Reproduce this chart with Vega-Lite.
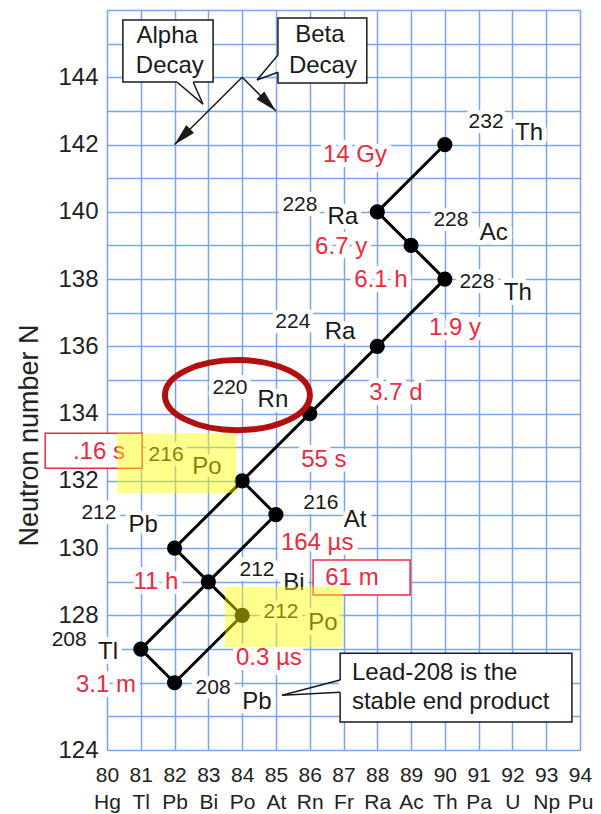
{
  "$schema": "https://vega.github.io/schema/vega-lite/v6.json",
  "width": 473,
  "height": 740,
  "autosize": "none",
  "padding": {"left": 107, "top": 10, "right": 21, "bottom": 64},
  "background": "white",
  "config": {"view": {"stroke": null}, "font": "Liberation Sans"},
  "datasets": {
    "nuclides": [
      {"name": "Th-232", "x": 90, "y": 142},
      {"name": "Ra-228", "x": 88, "y": 140},
      {"name": "Ac-228", "x": 89, "y": 139},
      {"name": "Th-228", "x": 90, "y": 138},
      {"name": "Ra-224", "x": 88, "y": 136},
      {"name": "Rn-220", "x": 86, "y": 134},
      {"name": "Po-216", "x": 84, "y": 132},
      {"name": "At-216", "x": 85, "y": 131},
      {"name": "Pb-212", "x": 82, "y": 130},
      {"name": "Bi-212", "x": 83, "y": 129},
      {"name": "Po-212", "x": 84, "y": 128},
      {"name": "Tl-208", "x": 81, "y": 127},
      {"name": "Pb-208", "x": 82, "y": 126}
    ],
    "chain": [
      {"x": 90, "y": 142, "x2": 88, "y2": 140},
      {"x": 88, "y": 140, "x2": 89, "y2": 139},
      {"x": 89, "y": 139, "x2": 90, "y2": 138},
      {"x": 90, "y": 138, "x2": 88, "y2": 136},
      {"x": 88, "y": 136, "x2": 86, "y2": 134},
      {"x": 86, "y": 134, "x2": 84, "y2": 132},
      {"x": 84, "y": 132, "x2": 85, "y2": 131},
      {"x": 84, "y": 132, "x2": 82, "y2": 130},
      {"x": 85, "y": 131, "x2": 83, "y2": 129},
      {"x": 82, "y": 130, "x2": 83, "y2": 129},
      {"x": 83, "y": 129, "x2": 81, "y2": 127},
      {"x": 83, "y": 129, "x2": 84, "y2": 128},
      {"x": 81, "y": 127, "x2": 82, "y2": 126},
      {"x": 84, "y": 128, "x2": 82, "y2": 126}
    ],
    "massLabels": [
      {"t": "232", "x": 91.22, "y": 142.67},
      {"t": "228", "x": 85.71, "y": 140.2},
      {"t": "228", "x": 90.18, "y": 139.76},
      {"t": "228", "x": 90.95, "y": 137.91},
      {"t": "224", "x": 85.5, "y": 136.72},
      {"t": "220", "x": 83.64, "y": 134.76},
      {"t": "216", "x": 81.75, "y": 132.77},
      {"t": "212", "x": 79.76, "y": 131.05},
      {"t": "216", "x": 86.33, "y": 131.34},
      {"t": "212", "x": 84.44, "y": 129.35},
      {"t": "212", "x": 85.15, "y": 128.1},
      {"t": "208", "x": 78.88, "y": 127.27},
      {"t": "208", "x": 83.14, "y": 125.84}
    ],
    "symLabels": [
      {"t": "Th", "x": 92.49, "y": 142.34},
      {"t": "Ra", "x": 86.98, "y": 139.84},
      {"t": "Ac", "x": 91.45, "y": 139.37},
      {"t": "Th", "x": 92.16, "y": 137.59},
      {"t": "Ra", "x": 86.9, "y": 136.43},
      {"t": "Rn", "x": 84.91, "y": 134.4},
      {"t": "Po", "x": 82.96, "y": 132.41},
      {"t": "Pb", "x": 81.07, "y": 130.69},
      {"t": "At", "x": 87.34, "y": 130.84},
      {"t": "Bi", "x": 85.53, "y": 128.96},
      {"t": "Po", "x": 86.39, "y": 127.78},
      {"t": "Tl", "x": 80.03, "y": 126.91},
      {"t": "Pb", "x": 84.44, "y": 125.43}
    ],
    "halfLives": [
      {"t": "14 Gy", "x": 87.34, "y": 141.69},
      {"t": "6.7 y", "x": 86.93, "y": 138.95},
      {"t": "6.1 h", "x": 88.11, "y": 137.97},
      {"t": "1.9 y", "x": 90.3, "y": 136.54},
      {"t": "3.7 d", "x": 88.55, "y": 134.61},
      {"t": "55 s", "x": 86.42, "y": 132.62},
      {"t": ".16 s", "x": 79.76, "y": 132.86},
      {"t": "164 µs", "x": 86.22, "y": 130.15},
      {"t": "61 m", "x": 87.25, "y": 129.11},
      {"t": "11 h", "x": 81.45, "y": 128.99},
      {"t": "0.3 µs", "x": 84.79, "y": 126.73},
      {"t": "3.1 m", "x": 79.97, "y": 125.93}
    ],
    "redBoxes": [
      {"x": 78.17, "x2": 81.04, "y": 133.42, "y2": 132.38},
      {"x": 86.1, "x2": 88.97, "y": 129.65, "y2": 128.61}
    ],
    "yellowBoxes": [
      {"x": 80.3, "x2": 83.82, "y": 133.42, "y2": 131.64},
      {"x": 83.49, "x2": 86.98, "y": 128.85, "y2": 127.06}
    ],
    "ellipse": [{"x": 83.86, "y": 134.55}],
    "callouts": [
      {"name": "alpha", "x": 80.47, "x2": 83.14, "y": 145.7, "y2": 143.86},
      {"name": "beta", "x": 85.06, "x2": 87.69, "y": 145.76, "y2": 143.83},
      {"name": "lead", "x": 86.9, "x2": 93.76, "y": 126.88, "y2": 124.83}
    ],
    "pointerGaps": [
      {"x": 82.07, "y": 143.86, "x2": 82.55, "y2": 143.86},
      {"x": 85.06, "y": 144.66, "x2": 85.06, "y2": 144.15},
      {"x": 86.9, "y": 126.08, "x2": 86.9, "y2": 125.72}
    ],
    "pointers": [
      {"x": 82.07, "y": 143.86, "x2": 82.84, "y2": 143.2},
      {"x": 82.55, "y": 143.86, "x2": 82.84, "y2": 143.2},
      {"x": 85.06, "y": 144.66, "x2": 84.44, "y2": 143.92},
      {"x": 85.06, "y": 144.15, "x2": 84.44, "y2": 143.92},
      {"x": 86.9, "y": 126.08, "x2": 85.18, "y2": 125.63},
      {"x": 86.9, "y": 125.72, "x2": 85.18, "y2": 125.63}
    ],
    "calloutText": [
      {"t": "Alpha", "x": 81.78, "y": 145.22},
      {"t": "Decay", "x": 81.86, "y": 144.33},
      {"t": "Beta", "x": 86.3, "y": 145.25},
      {"t": "Decay", "x": 86.39, "y": 144.33}
    ],
    "leadText": [
      {"t": "Lead-208 is the", "x": 87.25, "y": 126.29},
      {"t": "stable end product", "x": 87.25, "y": 125.43}
    ],
    "arrows": [
      {"kind": "alpha", "x": 84, "y": 144, "x2": 82, "y2": 142},
      {"kind": "beta", "x": 84, "y": 144, "x2": 85, "y2": 143}
    ],
    "arrowHeads": [
      {"kind": "alpha", "x": 82, "y": 142},
      {"kind": "beta", "x": 85, "y": 143}
    ]
  },
  "encoding": {
    "x": {
      "field": "x",
      "type": "quantitative",
      "scale": {"domain": [80, 94], "nice": false, "zero": false},
      "axis": {
        "values": [80, 81, 82, 83, 84, 85, 86, 87, 88, 89, 90, 91, 92, 93, 94],
        "grid": true,
        "gridColor": "#7aa3f0",
        "gridWidth": 1.5,
        "gridOpacity": 1,
        "ticks": false,
        "domain": false,
        "labelFont": "Liberation Sans",
        "labelFontSize": 21,
        "labelColor": "#222222",
        "labelPadding": 14,
        "labelLineHeight": 27,
        "labelFlush": false,
        "labelOverlap": false,
        "labelExpr": "[datum.label, ['Hg','Tl','Pb','Bi','Po','At','Rn','Fr','Ra','Ac','Th','Pa','U','Np','Pu'][datum.value - 80]]",
        "title": null
      }
    },
    "y": {
      "field": "y",
      "type": "quantitative",
      "scale": {"domain": [124, 146], "nice": false, "zero": false},
      "axis": {
        "values": [124, 125, 126, 127, 128, 129, 130, 131, 132, 133, 134, 135, 136, 137, 138, 139, 140, 141, 142, 143, 144, 145, 146],
        "grid": true,
        "gridColor": "#7aa3f0",
        "gridWidth": 1.5,
        "gridOpacity": 1,
        "ticks": false,
        "domain": false,
        "labelFont": "Liberation Sans",
        "labelFontSize": 24,
        "labelColor": "#222222",
        "labelPadding": 9,
        "labelOverlap": false,
        "labelExpr": "datum.value % 2 == 0 && datum.value < 146 && datum.value != 126 ? datum.label : ''",
        "title": "Neutron number N",
        "titleFont": "Liberation Sans",
        "titleFontSize": 27,
        "titleFontWeight": "normal",
        "titleColor": "#222222",
        "titleAngle": -90,
        "titleAlign": "center",
        "titleBaseline": "middle",
        "titleX": -78,
        "titleY": 425
      }
    }
  },
  "layer": [
    {
      "data": {"name": "massLabels"},
      "mark": {"type": "text", "align": "center", "baseline": "middle", "fontSize": 21, "color": "white", "stroke": "white", "strokeWidth": 10, "strokeJoin": "round"},
      "encoding": {"text": {"field": "t"}}
    },
    {
      "data": {"name": "symLabels"},
      "mark": {"type": "text", "align": "center", "baseline": "middle", "fontSize": 24, "color": "white", "stroke": "white", "strokeWidth": 10, "strokeJoin": "round"},
      "encoding": {"text": {"field": "t"}}
    },
    {
      "data": {"name": "halfLives"},
      "mark": {"type": "text", "align": "center", "baseline": "middle", "fontSize": 24, "color": "white", "stroke": "white", "strokeWidth": 10, "strokeJoin": "round"},
      "encoding": {"text": {"field": "t"}}
    },
    {
      "data": {"name": "chain"},
      "mark": {"type": "rule", "color": "black", "strokeWidth": 3, "strokeCap": "round"},
      "encoding": {"x2": {"field": "x2"}, "y2": {"field": "y2"}}
    },
    {
      "data": {"name": "nuclides"},
      "mark": {"type": "circle", "color": "black", "size": 230, "opacity": 1}
    },
    {
      "data": {"name": "redBoxes"},
      "mark": {"type": "rect", "fill": "white", "stroke": "#ee2a3f", "strokeWidth": 1.5},
      "encoding": {"x2": {"field": "x2"}, "y2": {"field": "y2"}}
    },
    {
      "data": {"name": "massLabels"},
      "mark": {"type": "text", "align": "center", "baseline": "middle", "fontSize": 21, "color": "#1a1a1a"},
      "encoding": {"text": {"field": "t"}}
    },
    {
      "data": {"name": "symLabels"},
      "mark": {"type": "text", "align": "center", "baseline": "middle", "fontSize": 24, "color": "#1a1a1a"},
      "encoding": {"text": {"field": "t"}}
    },
    {
      "data": {"name": "halfLives"},
      "mark": {"type": "text", "align": "center", "baseline": "middle", "fontSize": 24, "color": "#ee2a3f"},
      "encoding": {"text": {"field": "t"}}
    },
    {
      "data": {"name": "yellowBoxes"},
      "mark": {"type": "rect", "fill": "#ffff00", "opacity": 0.45},
      "encoding": {"x2": {"field": "x2"}, "y2": {"field": "y2"}}
    },
    {
      "data": {"name": "ellipse"},
      "mark": {
        "type": "point",
        "shape": "M 1 0 C 1 0.2667 0.5523 0.483 0 0.483 C -0.5523 0.483 -1 0.2667 -1 0 C -1 -0.2667 -0.5523 -0.483 0 -0.483 C 0.5523 -0.483 1 -0.2667 1 0 Z",
        "size": 21025,
        "filled": false,
        "stroke": "#b30f0f",
        "strokeWidth": 6,
        "opacity": 1
      }
    },
    {
      "data": {"name": "callouts"},
      "mark": {"type": "rect", "fill": "white", "stroke": "#1a1a1a", "strokeWidth": 1.5},
      "encoding": {"x2": {"field": "x2"}, "y2": {"field": "y2"}}
    },
    {
      "data": {"name": "pointerGaps"},
      "mark": {"type": "rule", "color": "white", "strokeWidth": 3},
      "encoding": {"x2": {"field": "x2"}, "y2": {"field": "y2"}}
    },
    {
      "data": {"name": "pointers"},
      "mark": {"type": "rule", "color": "#1a1a1a", "strokeWidth": 1.5},
      "encoding": {"x2": {"field": "x2"}, "y2": {"field": "y2"}}
    },
    {
      "data": {"name": "calloutText"},
      "mark": {"type": "text", "align": "center", "baseline": "middle", "fontSize": 24, "color": "#1a1a1a"},
      "encoding": {"text": {"field": "t"}}
    },
    {
      "data": {"name": "leadText"},
      "mark": {"type": "text", "align": "left", "baseline": "middle", "fontSize": 24, "color": "#1a1a1a"},
      "encoding": {"text": {"field": "t"}}
    },
    {
      "data": {"name": "arrows"},
      "mark": {"type": "rule", "color": "#1a1a1a", "strokeWidth": 1.5},
      "encoding": {"x2": {"field": "x2"}, "y2": {"field": "y2"}}
    },
    {
      "data": {"name": "arrowHeads"},
      "transform": [{"filter": "datum.kind == 'alpha'"}],
      "mark": {"type": "point", "shape": "M 0 0 L -0.25 1 L 0.25 1 Z", "size": 1936, "filled": true, "color": "#1a1a1a", "opacity": 1, "angle": 225}
    },
    {
      "data": {"name": "arrowHeads"},
      "transform": [{"filter": "datum.kind == 'beta'"}],
      "mark": {"type": "point", "shape": "M 0 0 L -0.25 1 L 0.25 1 Z", "size": 1936, "filled": true, "color": "#1a1a1a", "opacity": 1, "angle": 135}
    }
  ]
}
